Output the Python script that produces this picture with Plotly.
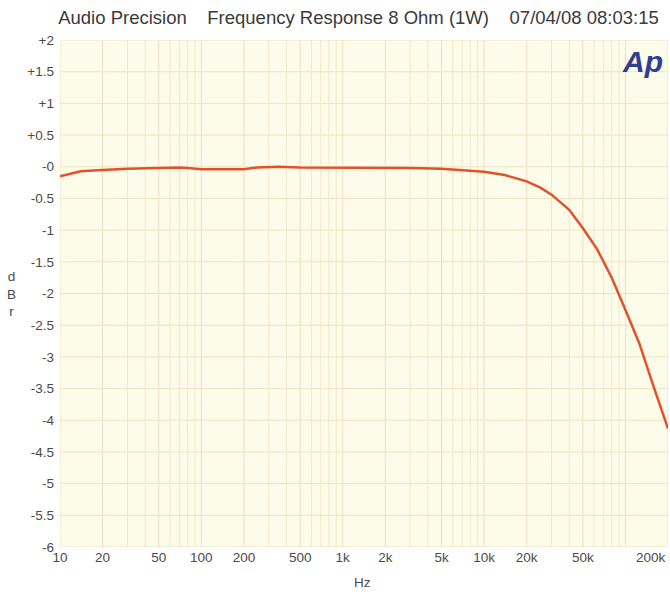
import numpy as np
import plotly.graph_objects as go

freq_hz = [10, 14, 20, 30, 50, 70, 80, 100, 150, 200, 250, 350, 500, 1000, 2000, 3000,
           5000, 7000, 10000, 14000, 20000, 25000, 30000, 40000, 50000, 63000, 80000,
           100000, 125000, 160000, 200000]
level_dbr = [-0.15, -0.07, -0.05, -0.03, -0.02, -0.01, -0.02, -0.04, -0.04, -0.04, -0.01,
             0.0, -0.01, -0.01, -0.01, -0.02, -0.03, -0.05, -0.08, -0.13, -0.23, -0.33,
             -0.44, -0.68, -0.97, -1.3, -1.75, -2.26, -2.78, -3.5, -4.13]

x_tickvals = [10, 20, 50, 100, 200, 500, 1000, 2000, 5000, 10000, 20000, 50000]
x_ticktext = ["10", "20", "50", "100", "200", "500", "1k", "2k", "5k", "10k", "20k", "50k"]
x_last_label = "200k"
y_tickvals = [2, 1.5, 1, 0.5, 0, -0.5, -1, -1.5, -2, -2.5, -3, -3.5, -4, -4.5, -5, -5.5, -6]
y_ticktext = ["+2", "+1.5", "+1", "+0.5", "-0", "-0.5", "-1", "-1.5", "-2", "-2.5", "-3",
              "-3.5", "-4", "-4.5", "-5", "-5.5", "-6"]

title_text = "Audio Precision&nbsp;&nbsp;&nbsp;&nbsp;Frequency Response 8 Ohm (1W)&nbsp;&nbsp;&nbsp;&nbsp;07/04/08 08:03:15"

FONT = "Liberation Sans, Arial, sans-serif"
TXT = "#4a4a4a"

fig = go.Figure()
fig.add_trace(go.Scatter(x=freq_hz, y=level_dbr, mode="lines",
                         line=dict(color="#e0532a", width=2.5), showlegend=False))

shapes = []
for d in range(1, 6):
    for m in range(1, 10):
        f = m * 10 ** d
        if f < 10 or f > 200000:
            continue
        col = "#f2dcc0" if m in (1, 2, 5) else "#efe9c8"
        shapes.append(dict(type="line", xref="x", yref="paper", x0=f, x1=f, y0=0, y1=1,
                           line=dict(color=col, width=1), layer="below"))
for v in y_tickvals:
    shapes.append(dict(type="line", xref="paper", yref="y", x0=0, x1=1, y0=v, y1=v,
                       line=dict(color="#efe4c2", width=1), layer="below"))

fig.update_layout(
    width=670, height=592,
    margin=dict(l=60, r=2, t=40, b=45),
    paper_bgcolor="white",
    plot_bgcolor="#fdfcea",
    font=dict(family=FONT, color=TXT, size=13),
    shapes=shapes,
    title=dict(text=title_text, x=0.535, xanchor="center", y=0.97, yanchor="middle",
               font=dict(family=FONT, size=18.5, color="#3a3a3a")),
    xaxis=dict(type="log", range=[1, np.log10(200000)], tickvals=x_tickvals,
               ticktext=x_ticktext, showgrid=False, zeroline=False, ticks="",
               showline=False, tickfont=dict(size=13.5, color=TXT), ticklabelstandoff=0),
    yaxis=dict(range=[-6, 2], tickvals=y_tickvals, ticktext=y_ticktext, showgrid=False,
               zeroline=False, ticks="", showline=False,
               tickfont=dict(size=13.5, color=TXT), ticklabelstandoff=5),
    annotations=[
        dict(text=x_last_label, xref="x", yref="paper", x=np.log10(200000), y=0,
             xanchor="right", yanchor="top", yshift=-1, showarrow=False,
             font=dict(size=13.5, color=TXT)),
        dict(text="Hz", xref="paper", yref="paper", x=0.498, y=-0.052, xanchor="center",
             yanchor="top", showarrow=False, font=dict(size=13.5, color=TXT)),
        dict(text="d<br>B<br>r", xref="paper", yref="paper", x=-0.08, y=0.5,
             xanchor="center", yanchor="middle", showarrow=False, align="center",
             font=dict(size=13.5, color=TXT)),
        dict(text="<b><i>Ap</i></b>", xref="paper", yref="paper", x=0.995, y=0.995,
             xanchor="right", yanchor="top", showarrow=False,
             font=dict(family=FONT, size=30, color="#2f3e8f")),
    ],
)

fig.write_html("out.html")
